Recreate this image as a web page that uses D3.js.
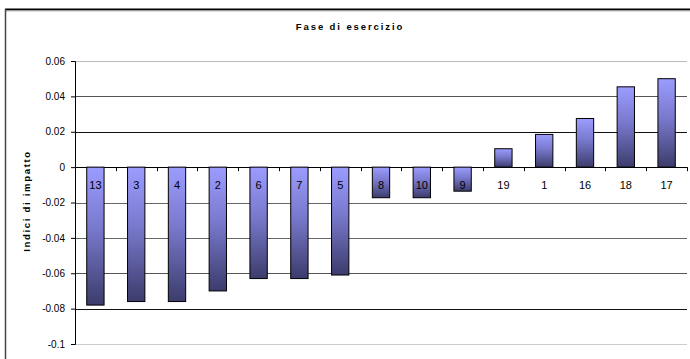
<!DOCTYPE html>
<html>
<head>
<meta charset="utf-8">
<title>Fase di esercizio</title>
<style>
body, html { margin: 0; padding: 0; background: #fff; }
#chart { width: 690px; height: 359px; }
text { font-family: Arial, 'Liberation Sans', sans-serif; }
.title { font-size: 9.5px; font-weight: 700; letter-spacing: 1.9px; }
.y_label { font-size: 9.5px; font-weight: 700; letter-spacing: 1.7px; }
.y_axis text { font-size: 10px; fill: #000; }
.y_axis path { stroke: #000; }
.x_axis path { display: none; }
.x_axis line { stroke: #000; }
.cat_label { font-size: 11px; fill: #000; }
</style>
<script src="https://d3js.org/d3.v7.min.js"></script>
</head>
<body>
<div id="chart"></div>
<script>

var categories = ["13", "3", "4", "2", "6", "7", "5", "8", "10", "9", "19", "1", "16", "18", "17"];
var values = [-0.078, -0.076, -0.076, -0.070, -0.063, -0.063, -0.061, -0.0173, -0.0173, -0.0136, 0.0104, 0.0185, 0.0275, 0.0454, 0.050];
var y_ticks = [0.06, 0.04, 0.02, 0, -0.02, -0.04, -0.06, -0.08, -0.1];
var y_tick_labels = ["0.06", "0.04", "0.02", "0", "-0.02", "-0.04", "-0.06", "-0.08", "-0.1"];

var title = "Fase di esercizio";
var y_title = "Indici di impatto";

// line shades as they come out in the reference picture
var grid_colors = ["#bbb", "#555", "#111", "#000", "#666", "#666", "#555", "#111", "#ccc"];

var data = categories.map(function(c, i) { return { cat: c, value: values[i] }; });

var margin = { top: 61, left: 75 };
var width = 612;
var height = 283;

var svg = d3.select("#chart")
            .append("svg")
            .attr("width", 690)
            .attr("height", 359);

var defs = svg.append("defs");
var grad = defs.append("linearGradient")
               .attr("id", "bar_grad")
               .attr("x1", 0).attr("y1", 0)
               .attr("x2", 0).attr("y2", 1);
grad.append("stop").attr("offset", "0%").attr("stop-color", "#9c9cff");
grad.append("stop").attr("offset", "45%").attr("stop-color", "#7878cc");
grad.append("stop").attr("offset", "100%").attr("stop-color", "#3c3c6c");

// outer frame
svg.append("line")
   .attr("x1", 5).attr("x2", 690).attr("y1", 9.5).attr("y2", 9.5)
   .attr("stroke", "#000").attr("stroke-width", 2);
svg.append("line")
   .attr("x1", 5).attr("x2", 690).attr("y1", 11).attr("y2", 11)
   .attr("stroke", "#bbb").attr("stroke-width", 1);
svg.append("line")
   .attr("x1", 5.5).attr("x2", 5.5).attr("y1", 9).attr("y2", 359)
   .attr("stroke", "#444").attr("stroke-width", 1.5);

svg.append("text")
   .attr("class", "title")
   .attr("x", 350)
   .attr("y", 30)
   .attr("text-anchor", "middle")
   .text(title);

var chart = svg.append("g")
               .attr("transform", "translate(" + margin.left + "," + margin.top + ")");

var scale_x = d3.scaleBand()
                .domain(categories)
                .range([0, width])
                .paddingInner(0.575)
                .paddingOuter(0.2875);

var scale_y = d3.scaleLinear()
                .domain([-0.1, 0.06])
                .range([height, 0]);

// gridlines
chart.selectAll(".grid")
     .data(y_ticks)
     .enter()
     .append("line")
     .attr("class", "grid")
     .attr("x1", 0)
     .attr("x2", width)
     .attr("y1", function(d) { return Math.round(scale_y(d)) + 0.5; })
     .attr("y2", function(d) { return Math.round(scale_y(d)) + 0.5; })
     .attr("stroke", function(d, i) { return grid_colors[i]; })
     .attr("stroke-width", 1.2);

var y_axis = d3.axisLeft(scale_y)
               .tickValues(y_ticks)
               .tickSize(4)
               .tickPadding(6)
               .tickFormat(function(d, i) { return y_tick_labels[i]; });

chart.append("g")
     .attr("class", "y_axis")
     .call(y_axis);

// category tick marks at band boundaries, below the zero line
var x_tick_pos = d3.range(categories.length + 1).map(function(i) { return i * width / categories.length; });
chart.selectAll(".x_tick")
     .data(x_tick_pos)
     .enter()
     .append("line")
     .attr("class", "x_tick")
     .attr("x1", function(d) { return Math.round(d) + 0.5; })
     .attr("x2", function(d) { return Math.round(d) + 0.5; })
     .attr("y1", scale_y(0))
     .attr("y2", scale_y(0) + 4)
     .attr("stroke", "#000");

chart.selectAll(".bar")
     .data(data)
     .enter()
     .append("rect")
     .attr("class", "bar")
     .attr("x", function(d) { return scale_x(d.cat); })
     .attr("width", scale_x.bandwidth())
     .attr("y", function(d) { return scale_y(Math.max(0, d.value)); })
     .attr("height", function(d) { return Math.abs(scale_y(d.value) - scale_y(0)); })
     .attr("fill", "url(#bar_grad)")
     .attr("stroke", "#000")
     .attr("stroke-width", 1);

chart.selectAll(".cat_label")
     .data(data)
     .enter()
     .append("text")
     .attr("class", "cat_label")
     .attr("x", function(d) { return scale_x(d.cat) + scale_x.bandwidth() / 2; })
     .attr("y", scale_y(0) + 22)
     .attr("text-anchor", "middle")
     .text(function(d) { return d.cat; });

svg.append("text")
   .attr("class", "y_label")
   .attr("transform", "translate(30," + 201 + ") rotate(-90)")
   .attr("text-anchor", "middle")
   .text(y_title);

</script>
</body>
</html>
